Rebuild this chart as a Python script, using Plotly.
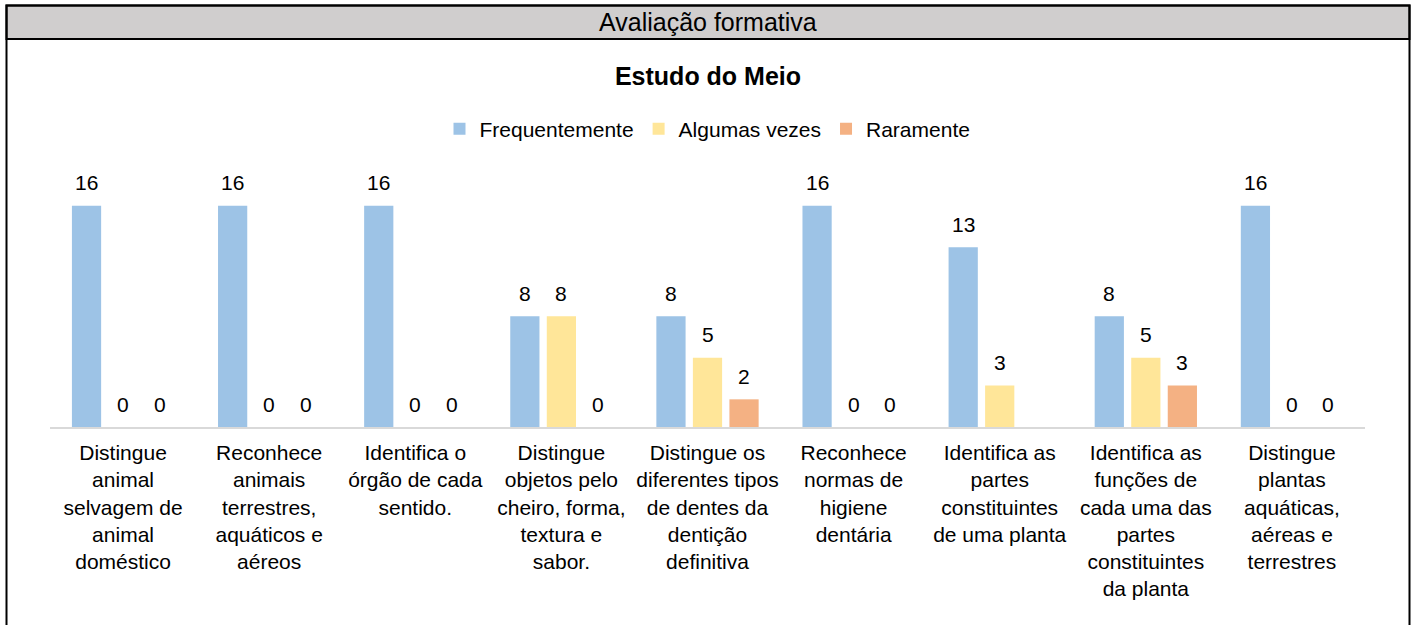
import plotly.graph_objects as go

categories = [
    "Distingue<br>animal<br>selvagem de<br>animal<br>doméstico",
    "Reconhece<br>animais<br>terrestres,<br>aquáticos e<br>aéreos",
    "Identifica o<br>órgão de cada<br>sentido.",
    "Distingue<br>objetos pelo<br>cheiro, forma,<br>textura e<br>sabor.",
    "Distingue os<br>diferentes tipos<br>de dentes da<br>dentição<br>definitiva",
    "Reconhece<br>normas de<br>higiene<br>dentária",
    "Identifica as<br>partes<br>constituintes<br>de uma planta",
    "Identifica as<br>funções de<br>cada uma das<br>partes<br>constituintes<br>da planta",
    "Distingue<br>plantas<br>aquáticas,<br>aéreas e<br>terrestres",
]
frequentemente = [16, 16, 16, 8, 8, 16, 13, 8, 16]
algumas_vezes = [0, 0, 0, 8, 5, 0, 3, 5, 0]
raramente = [0, 0, 0, 0, 2, 0, None, 3, 0]

series = [
    ("Frequentemente", frequentemente, "#9DC3E6"),
    ("Algumas vezes", algumas_vezes, "#FFE699"),
    ("Raramente", raramente, "#F4B183"),
]

FONT = "Liberation Sans, Arial, sans-serif"
W, H = 1416, 625
L, R, T, B = 50, 51, 178, 198
BARGAP, GROUPGAP = 0.25, 0.2


def px_x(px):
    return (px - L) / (W - L - R)


def px_y(py):
    return (H - B - py) / (H - T - B)


fig = go.Figure()
for name, vals, color in series:
    fig.add_trace(go.Bar(
        x=list(range(len(categories))), y=vals, name=name,
        marker=dict(color=color, line=dict(width=0)),
    ))

# data labels above each bar
slot = (1 - BARGAP) / len(series)
annotations = []
for k, (name, vals, color) in enumerate(series):
    off = (k - (len(series) - 1) / 2) * slot
    for i, v in enumerate(vals):
        if v is None:
            continue
        annotations.append(dict(
            x=i + off, y=v, xref="x", yref="y", text=str(v), showarrow=False,
            yanchor="middle", yshift=23, font=dict(size=21, color="black", family=FONT),
        ))

annotations.append(dict(
    x=0.5, y=(px_y(5) + px_y(39)) / 2, xref="paper", yref="paper",
    text="Avaliação formativa", showarrow=False, yanchor="middle",
    font=dict(size=25, color="black", family=FONT),
))

shapes = [
    dict(type="rect", xref="paper", yref="paper",
         x0=px_x(6.5), x1=px_x(1409.5), y0=px_y(39), y1=px_y(5.5),
         fillcolor="#D0CECE", line=dict(color="black", width=2), layer="below"),
    dict(type="rect", xref="paper", yref="paper",
         x0=px_x(6.5), x1=px_x(1409.5), y0=px_y(660), y1=px_y(5.5),
         fillcolor="rgba(0,0,0,0)", line=dict(color="black", width=2)),
]

fig.update_layout(
    width=W, height=H,
    margin=dict(l=L, r=R, t=T, b=B),
    paper_bgcolor="white", plot_bgcolor="white",
    barmode="group", bargap=BARGAP, bargroupgap=GROUPGAP,
    font=dict(family=FONT, color="black"),
    title=dict(text="<b>Estudo do Meio</b>", x=0.5, xanchor="center",
               y=1 - 76 / H, yanchor="middle",
               font=dict(size=25, family=FONT, color="black")),
    legend=dict(orientation="h", x=0.5, xanchor="center", y=px_y(129), yanchor="middle",
                font=dict(size=21, family=FONT, color="black"), itemwidth=30,
                bgcolor="rgba(0,0,0,0)"),
    xaxis=dict(
        tickmode="array", tickvals=list(range(len(categories))), ticktext=categories,
        range=[-0.5, len(categories) - 0.5], showgrid=False, zeroline=False,
        showline=True, linecolor="#D9D9D9", linewidth=1.5, ticks="",
        ticklabelstandoff=6, tickangle=0,
        tickfont=dict(size=21, family=FONT, color="black"),
    ),
    yaxis=dict(range=[0, 18], visible=False),
    annotations=annotations,
    shapes=shapes,
    showlegend=True,
)

fig.write_html("out.html", config={"displayModeBar": False},
               post_script="document.body.style.margin='0';")
